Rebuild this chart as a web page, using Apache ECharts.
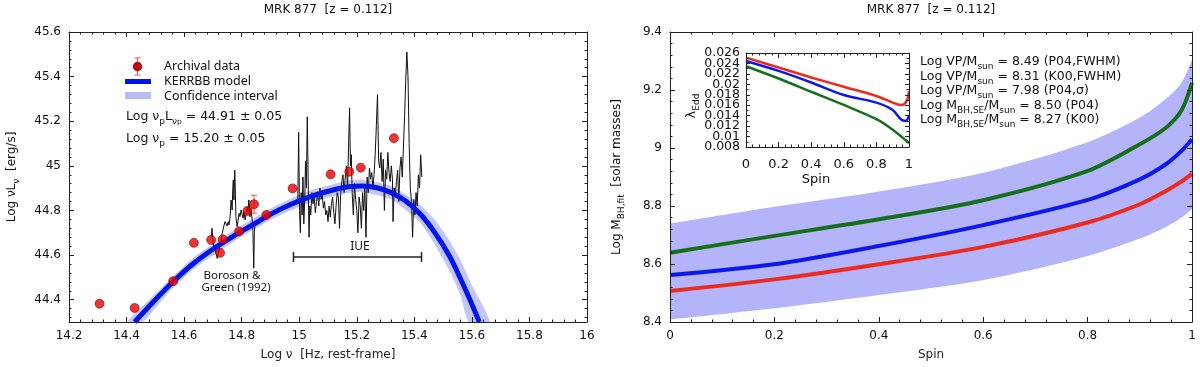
<!DOCTYPE html>
<html>
<head>
<meta charset="utf-8">
<script src="https://cdn.jsdelivr.net/npm/echarts@6/dist/echarts.min.js"></script>
<style>
  html, body { margin: 0; padding: 0; background: #fff; }
  #chart { width: 1200px; height: 367px; }
</style>
</head>
<body>
<div id="chart"></div>
<script>
// ---------- left panel: SED of MRK 877 ----------
const archivalPoints = [
  [14.306, 44.382], [14.428, 44.363], [14.562, 44.483], [14.634, 44.655],
  [14.694, 44.668], [14.725, 44.610], [14.734, 44.671], [14.791, 44.706],
  [14.820, 44.798], [14.843, 44.828], [14.886, 44.780], [14.977, 44.899],
  [15.109, 44.962], [15.174, 44.974], [15.214, 44.992], [15.329, 45.124]
];
// x, y, half error
const archivalErrors = [[14.843, 44.828, 0.04]];

// Boroson & Green (1992) optical spectrum
const opticalSpec = [
  [14.694, 44.675], [14.697, 44.720], [14.701, 44.653], [14.704, 44.623], [14.708, 44.638],
  [14.711, 44.608], [14.715, 44.585], [14.718, 44.593], [14.722, 44.623], [14.725, 44.653],
  [14.729, 44.668], [14.732, 44.697], [14.735, 44.712], [14.739, 44.735], [14.742, 44.750],
  [14.746, 44.742], [14.749, 44.730], [14.753, 44.750], [14.756, 44.735], [14.760, 44.772],
  [14.763, 44.847], [14.767, 44.802], [14.769, 44.892], [14.771, 44.937], [14.773, 44.847],
  [14.776, 44.981], [14.778, 44.892], [14.780, 44.772], [14.784, 44.727], [14.787, 44.750],
  [14.791, 44.787], [14.794, 44.772], [14.798, 44.802], [14.801, 44.805], [14.805, 44.765],
  [14.808, 44.795], [14.812, 44.757], [14.815, 44.780], [14.819, 44.817], [14.822, 44.787],
  [14.825, 44.847], [14.829, 44.772], [14.832, 44.809], [14.836, 44.765], [14.839, 44.712],
  [14.842, 44.541], [14.844, 44.697], [14.846, 44.735]
];

// IUE ultraviolet spectrum
const iueSpec = [
  [14.995, 44.84], [14.998, 45.15], [15.001, 44.80], [15.004, 44.70], [15.007, 44.88],
  [15.010, 44.78], [15.013, 44.95], [15.016, 44.74], [15.019, 44.85], [15.022, 45.02],
  [15.025, 44.90], [15.028, 45.22], [15.031, 44.95], [15.034, 44.68], [15.037, 44.82],
  [15.040, 44.78], [15.044, 44.88], [15.048, 44.83], [15.052, 44.86], [15.056, 44.79],
  [15.060, 44.84], [15.064, 44.88], [15.068, 44.82], [15.072, 44.90], [15.076, 44.85],
  [15.080, 44.87], [15.084, 44.81], [15.088, 44.84], [15.092, 44.78], [15.096, 44.80],
  [15.100, 44.75], [15.104, 44.82], [15.108, 44.77], [15.112, 44.83], [15.116, 44.86],
  [15.120, 44.79], [15.124, 44.74], [15.128, 44.82], [15.132, 44.88], [15.136, 44.86],
  [15.140, 44.72], [15.144, 44.87], [15.148, 44.93], [15.152, 44.96], [15.156, 44.88],
  [15.160, 44.95], [15.164, 45.00], [15.168, 44.90], [15.172, 45.12], [15.175, 45.26],
  [15.178, 45.00], [15.181, 45.05], [15.184, 44.88], [15.188, 44.78], [15.192, 44.92],
  [15.196, 44.85], [15.200, 44.80], [15.204, 44.70], [15.208, 44.86], [15.212, 44.82],
  [15.216, 44.72], [15.220, 44.88], [15.224, 44.80], [15.228, 44.91], [15.232, 44.68],
  [15.236, 44.95], [15.240, 44.88], [15.244, 44.99], [15.248, 44.94], [15.252, 44.97],
  [15.256, 44.90], [15.260, 44.96], [15.264, 45.05], [15.268, 45.18], [15.272, 45.32],
  [15.276, 45.02], [15.280, 44.99], [15.284, 45.06], [15.288, 44.93], [15.292, 45.03],
  [15.296, 44.80], [15.300, 44.98], [15.304, 44.94], [15.308, 45.06], [15.312, 44.97],
  [15.316, 44.93], [15.320, 45.00], [15.324, 44.94], [15.326, 44.75], [15.330, 44.90],
  [15.334, 44.87], [15.338, 44.93], [15.342, 44.98], [15.346, 44.84], [15.350, 44.99],
  [15.354, 45.04], [15.358, 44.95], [15.362, 45.08], [15.366, 45.22], [15.370, 45.38],
  [15.374, 45.51], [15.378, 45.40], [15.382, 45.10], [15.386, 44.90], [15.390, 44.84],
  [15.394, 44.68], [15.398, 44.85], [15.402, 44.78], [15.406, 44.88], [15.410, 44.82],
  [15.414, 44.96], [15.418, 44.90], [15.422, 45.05], [15.426, 44.95]
];

// KERRBB model and its confidence band
const kerrbbModel = [
  [14.428, 44.300], [14.50, 44.400], [14.56, 44.478], [14.63, 44.560], [14.70, 44.626],
  [14.77, 44.684], [14.84, 44.737], [14.90, 44.783], [14.97, 44.827], [15.03, 44.858],
  [15.10, 44.886], [15.17, 44.906], [15.22, 44.910], [15.27, 44.902], [15.32, 44.880],
  [15.37, 44.842], [15.42, 44.785], [15.47, 44.703], [15.52, 44.600], [15.56, 44.495],
  [15.60, 44.380], [15.626, 44.300]
];
const kerrbbUpper = [
  [14.402, 44.300], [14.50, 44.426], [14.63, 44.586], [14.77, 44.709], [14.90, 44.809],
  [15.03, 44.885], [15.17, 44.934], [15.22, 44.938], [15.32, 44.910], [15.42, 44.826],
  [15.47, 44.760], [15.52, 44.670], [15.56, 44.578], [15.60, 44.465], [15.662, 44.300]
];
const kerrbbLower = [
  [14.456, 44.300], [14.55, 44.438], [14.63, 44.534], [14.77, 44.659], [14.90, 44.757],
  [15.03, 44.831], [15.17, 44.878], [15.22, 44.882], [15.32, 44.850], [15.42, 44.745],
  [15.47, 44.650], [15.52, 44.535], [15.56, 44.420], [15.59, 44.300]
];
const iueRange = [[14.98, 15.425, 44.591]];

// ---------- right panel: black hole mass vs spin ----------
const spin = [0, 0.2, 0.4, 0.6, 0.8, 0.9, 0.95, 0.98, 1];
const mass45 = [8.639, 8.697, 8.754, 8.820, 8.921, 9.013, 9.070, 9.130, 9.225];
const mass30 = [8.562, 8.599, 8.662, 8.734, 8.821, 8.892, 8.944, 8.990, 9.030];
const mass0 = [8.507, 8.547, 8.599, 8.659, 8.743, 8.806, 8.852, 8.885, 8.911];
const massUpper = [8.739, 8.797, 8.850, 8.915, 9.020, 9.105, 9.170, 9.225, 9.305];
const massLower = [8.408, 8.447, 8.493, 8.545, 8.628, 8.688, 8.728, 8.760, 8.790];

// inset: Eddington ratio vs spin
const eddSpin0 = [0, 0.2, 0.4, 0.6, 0.8, 0.9, 0.95, 0.97, 0.99, 1];
const edd0 = [0.02511, 0.02321, 0.02131, 0.01954, 0.01776, 0.0165, 0.01605, 0.0162, 0.0171, 0.01871];
const eddSpin30 = [0, 0.2, 0.4, 0.6, 0.8, 0.9, 0.95, 0.98, 1];
const edd30 = [0.02448, 0.02258, 0.02036, 0.01795, 0.0165, 0.0151, 0.01332, 0.0130, 0.01396];
const eddSpin45 = [0, 0.2, 0.4, 0.6, 0.8, 0.9, 1];
const edd45 = [0.02346, 0.02112, 0.01858, 0.01605, 0.01332, 0.0113, 0.00876];
const eddTicks = [0.026, 0.024, 0.022, 0.02, 0.018, 0.016, 0.014, 0.012, 0.01, 0.008];
const eddTickLabels = ['0.026', '0.024', '0.022', '0.02', '0.018', '0.016', '0.014', '0.012', '0.01', '0.008'];

const zip = (xs, ys) => xs.map((x, i) => [x, ys[i]]);

const RED = '#ee2a1e', BLUE = '#0a18ee', GREEN = '#16701a';
const FONT = 'DejaVu Sans';

function axis(grid, pos, min, max, extra) {
  const withLabel = pos === 'bottom' || pos === 'left';
  const a = {
    type: 'value', gridIndex: grid, position: pos, min: min, max: max, z: 5,
    axisLine: { show: true, onZero: false, lineStyle: { color: '#222', width: 1 } },
    axisTick: { show: true, inside: true, length: 5, lineStyle: { color: '#222' } },
    minorTick: { show: true, splitNumber: 5, length: 2.5, lineStyle: { color: '#222' } },
    splitLine: { show: false },
    axisLabel: { show: withLabel, color: '#111', fontFamily: FONT, fontSize: 12, margin: 8 }
  };
  return Object.assign(a, extra || {});
}

function bandPolygon(upper, lower, xi, yi, color) {
  const poly = upper.concat(lower.slice().reverse());
  return {
    type: 'custom', xAxisIndex: xi, yAxisIndex: yi, clip: true, silent: true, z: 1,
    data: [poly[0]],
    renderItem: (params, api) => ({
      type: 'polygon',
      shape: { points: poly.map(p => api.coord(p)), smooth: 0.2 },
      style: { fill: color }
    })
  };
}

const subRich = {
  s: { fontSize: 9, fontFamily: FONT, verticalAlign: 'bottom', fill: '#111' },
  ss: { fontSize: 7.5, fontFamily: FONT, verticalAlign: 'bottom', fill: '#111' }
};

function label(x, y, text, opts) {
  const o = opts || {};
  return {
    type: 'text', x: x, y: y, rotation: o.rotation || 0, silent: true,
    style: {
      text: text, fill: o.color || '#111', fontFamily: o.font || FONT,
      fontSize: o.size || 12, lineHeight: o.lineHeight || 19,
      align: o.align || 'left', verticalAlign: 'middle', rich: subRich
    }
  };
}

const insetTicks = { show: true, inside: true, length: 4, lineStyle: { color: '#222' } };
const insetMinor = { show: true, splitNumber: 2, length: 2.5, lineStyle: { color: '#222' } };

const chart = echarts.init(document.getElementById('chart'));

chart.setOption({
  animation: false,
  backgroundColor: '#fff',
  grid: [
    { left: 69, right: 613, top: 32, bottom: 45, outerBoundsMode: 'none' },
    { left: 670, right: 8, top: 32, bottom: 45, outerBoundsMode: 'none' },
    { left: 746, top: 53, width: 163, height: 94, outerBoundsMode: 'none',
      show: true, backgroundColor: '#fff', borderWidth: 0 }
  ],
  xAxis: [
    axis(0, 'bottom', 14.2, 16, { interval: 0.2, name: 'Log ν  [Hz, rest-frame]', nameLocation: 'middle',
      nameGap: 27, nameTextStyle: { fontFamily: FONT, fontSize: 12, color: '#222' } }),
    axis(0, 'top', 14.2, 16, { interval: 0.2 }),
    axis(1, 'bottom', 0, 1, { interval: 0.2, name: 'Spin', nameLocation: 'middle',
      nameGap: 27, nameTextStyle: { fontFamily: FONT, fontSize: 12, color: '#222' } }),
    axis(1, 'top', 0, 1, { interval: 0.2 }),
    axis(2, 'bottom', 0, 1, { interval: 0.2,
      axisLabel: { show: true, color: '#111', fontFamily: FONT, fontSize: 13, margin: 11 } }),
    axis(2, 'top', 0, 1, { interval: 0.2 })
  ],
  yAxis: [
    axis(0, 'left', 44.3, 45.6, { splitNumber: 6,
      axisLabel: { show: true, showMinLabel: false, color: '#111', fontFamily: FONT, fontSize: 12, margin: 8 } }),
    axis(0, 'right', 44.3, 45.6, { splitNumber: 6 }),
    axis(1, 'left', 8.4, 9.4, { interval: 0.2 }),
    axis(1, 'right', 8.4, 9.4, { interval: 0.2 }),
    axis(2, 'left', 0.008, 0.026, { interval: 0.002, minorTick: insetMinor, axisTick: insetTicks,
      axisLabel: { show: false } }),
    axis(2, 'right', 0.008, 0.026, { interval: 0.002, minorTick: insetMinor, axisTick: insetTicks })
  ],
  series: [
    // left panel
    bandPolygon(kerrbbUpper, kerrbbLower, 0, 0, '#c3c6f6'),
    { type: 'line', xAxisIndex: 0, yAxisIndex: 0, data: opticalSpec, symbol: 'none', z: 3,
      lineStyle: { width: 1, color: '#111' } },
    { type: 'line', xAxisIndex: 0, yAxisIndex: 0, data: iueSpec, symbol: 'none', z: 3,
      lineStyle: { width: 1, color: '#111' } },
    { type: 'line', xAxisIndex: 0, yAxisIndex: 0, data: kerrbbModel, symbol: 'none', smooth: 0.4, z: 4,
      lineStyle: { width: 5, color: '#0016e8' } },
    { type: 'custom', xAxisIndex: 0, yAxisIndex: 0, data: iueRange, z: 4, silent: true,
      renderItem: (params, api) => {
        const a = api.coord([api.value(0), api.value(2)]);
        const b = api.coord([api.value(1), api.value(2)]);
        const st = { stroke: '#222', lineWidth: 1.5 };
        return { type: 'group', children: [
          { type: 'line', shape: { x1: a[0], y1: a[1], x2: b[0], y2: b[1] }, style: st },
          { type: 'line', shape: { x1: a[0], y1: a[1] - 5, x2: a[0], y2: a[1] + 5 }, style: st },
          { type: 'line', shape: { x1: b[0], y1: b[1] - 5, x2: b[0], y2: b[1] + 5 }, style: st }
        ] };
      } },
    { type: 'custom', xAxisIndex: 0, yAxisIndex: 0, data: archivalErrors, z: 5, silent: true,
      renderItem: (params, api) => {
        const t = api.coord([api.value(0), api.value(1) + api.value(2)]);
        const b = api.coord([api.value(0), api.value(1) - api.value(2)]);
        const st = { stroke: '#ff4a4a', lineWidth: 1 };
        return { type: 'group', children: [
          { type: 'line', shape: { x1: t[0], y1: t[1], x2: b[0], y2: b[1] }, style: st },
          { type: 'line', shape: { x1: t[0] - 3, y1: t[1], x2: t[0] + 3, y2: t[1] }, style: st },
          { type: 'line', shape: { x1: b[0] - 3, y1: b[1], x2: b[0] + 3, y2: b[1] }, style: st }
        ] };
      } },
    { type: 'scatter', xAxisIndex: 0, yAxisIndex: 0, data: archivalPoints, symbolSize: 9, z: 6,
      itemStyle: { color: '#f00000', borderColor: '#5a0000', borderWidth: 0.7 } },

    // right panel: band = area under upper edge, with area under lower edge painted white
    { type: 'line', xAxisIndex: 2, yAxisIndex: 2, data: zip(spin, massUpper), symbol: 'none', smooth: 0.3, z: 1,
      silent: true, lineStyle: { width: 0 }, areaStyle: { color: '#b3b4fa', opacity: 1, origin: 'start' } },
    { type: 'line', xAxisIndex: 2, yAxisIndex: 2, data: zip(spin, massLower), symbol: 'none', smooth: 0.3, z: 1,
      silent: true, lineStyle: { width: 0 }, areaStyle: { color: '#ffffff', opacity: 1, origin: 'start' } },
    { type: 'line', xAxisIndex: 2, yAxisIndex: 2, data: zip(spin, mass0), symbol: 'none', smooth: 0.3, z: 3,
      lineStyle: { width: 4, color: RED } },
    { type: 'line', xAxisIndex: 2, yAxisIndex: 2, data: zip(spin, mass30), symbol: 'none', smooth: 0.3, z: 3,
      lineStyle: { width: 4, color: BLUE } },
    { type: 'line', xAxisIndex: 2, yAxisIndex: 2, data: zip(spin, mass45), symbol: 'none', smooth: 0.3, z: 3,
      lineStyle: { width: 4, color: GREEN } },

    // inset
    { type: 'line', xAxisIndex: 4, yAxisIndex: 4, data: zip(eddSpin0, edd0), symbol: 'none', smooth: 0.3, z: 3,
      lineStyle: { width: 2.5, color: RED } },
    { type: 'line', xAxisIndex: 4, yAxisIndex: 4, data: zip(eddSpin30, edd30), symbol: 'none', smooth: 0.3, z: 3,
      lineStyle: { width: 2.5, color: BLUE } },
    { type: 'line', xAxisIndex: 4, yAxisIndex: 4, data: zip(eddSpin45, edd45), symbol: 'none', smooth: 0.3, z: 3,
      lineStyle: { width: 2.5, color: GREEN } },
    // inset y tick labels, placed through the inset's y scale (they are denser than the axis would allow)
    { type: 'custom', xAxisIndex: 4, yAxisIndex: 4, clip: false, silent: true, z: 6,
      data: eddTicks.map((v, i) => [0, v, i]),
      renderItem: (params, api) => {
        const p = api.coord([api.value(0), api.value(1)]);
        return { type: 'text', x: p[0] - 6, y: p[1],
          style: { text: eddTickLabels[api.value(2)], fill: '#111', fontFamily: FONT, fontSize: 12.5,
            align: 'right', verticalAlign: 'middle' } };
      } }
  ],
  graphic: [
    // titles
    label(328, 10, 'MRK 877  [z = 0.112]', { align: 'center', size: 12 }),
    label(931, 10, 'MRK 877  [z = 0.112]', { align: 'center', size: 12 }),
    // y axis names
    label(12, 177, 'Log νL{s|ν}  [erg/s]', { align: 'center', rotation: Math.PI / 2 }),
    label(617, 177, 'Log M{s|BH,fit}  [solar masses]', { align: 'center', rotation: Math.PI / 2 }),
    label(692, 106, 'λ{s|Edd}', { align: 'center', rotation: Math.PI / 2, size: 13 }),
    label(816, 180, 'Spin', { align: 'center', size: 13 }),

    // left legend
    { type: 'line', silent: true, shape: { x1: 137.5, y1: 58, x2: 137.5, y2: 75 }, style: { stroke: '#ff4a4a', lineWidth: 1 } },
    { type: 'line', silent: true, shape: { x1: 134.5, y1: 58, x2: 140.5, y2: 58 }, style: { stroke: '#ff4a4a', lineWidth: 1 } },
    { type: 'line', silent: true, shape: { x1: 134.5, y1: 75, x2: 140.5, y2: 75 }, style: { stroke: '#ff4a4a', lineWidth: 1 } },
    { type: 'circle', silent: true, shape: { cx: 137.5, cy: 66.5, r: 4.3 }, style: { fill: '#d00000', stroke: '#5a0000', lineWidth: 0.7 } },
    { type: 'rect', silent: true, shape: { x: 125, y: 79, width: 26, height: 5 }, style: { fill: '#0016e8' } },
    { type: 'rect', silent: true, shape: { x: 125, y: 92, width: 26, height: 7 }, style: { fill: '#b7bbf5' } },
    label(164, 66, 'Archival data', { font: 'Noto Sans', size: 12.5 }),
    label(164, 81, 'KERRBB model', { font: 'Noto Sans', size: 12.5 }),
    label(164, 96, 'Confidence interval', { font: 'Noto Sans', size: 12.5 }),
    label(126, 117, 'Log ν{s|p}L{s|ν}{ss|p} = 44.91 ± 0.05', { size: 12.5 }),
    label(126, 139, 'Log ν{s|p} = 15.20 ± 0.05', { size: 12.5 }),
    label(232, 276, 'Boroson &', { align: 'center', font: 'Noto Sans', size: 11.5 }),
    label(236, 288, 'Green (1992)', { align: 'center', font: 'Noto Sans', size: 11.5 }),
    label(360, 247, 'IUE', { align: 'center', font: 'Noto Sans', size: 12 }),

    // right panel annotations
    label(920, 62, 'Log VP/M{s|sun} = 8.49 (P04,FWHM)', { size: 12.5 }),
    label(920, 76.5, 'Log VP/M{s|sun} = 8.31 (K00,FWHM)', { size: 12.5 }),
    label(920, 91, 'Log VP/M{s|sun} = 7.98 (P04,σ)', { size: 12.5 }),
    label(920, 105.3, 'Log M{s|BH,SE}/M{s|sun} = 8.50 (P04)', { size: 12.5 }),
    label(920, 119.3, 'Log M{s|BH,SE}/M{s|sun} = 8.27 (K00)', { size: 12.5 }),
    label(1087, 153, '45°', { size: 13, color: '#2e6e6e' }),
    label(1087, 185, '30°', { size: 13, color: '#3c3ce6' }),
    label(1087, 212, '0°', { size: 13, color: '#c23a6e' })
  ]
});
</script>
</body>
</html>
